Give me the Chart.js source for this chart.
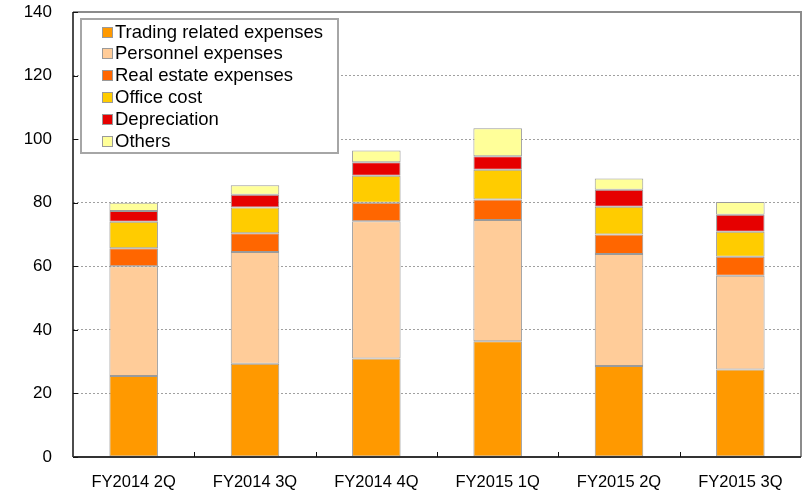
<!DOCTYPE html>
<html>
<head>
<meta charset="utf-8">
<script src="https://cdn.jsdelivr.net/npm/chart.js@4/dist/chart.umd.min.js"></script>
<style>
  html, body { margin: 0; padding: 0; background: #fff; }
  #wrap { width: 806px; height: 492px; }
</style>
</head>
<body>
<div id="wrap"><canvas id="c" width="806" height="492"></canvas></div>
<script>
// Quarterly expense breakdown (stacked)
const categories = ['FY2014 2Q', 'FY2014 3Q', 'FY2014 4Q', 'FY2015 1Q', 'FY2015 2Q', 'FY2015 3Q'];
const trading      = [25.5, 29.3, 31.0, 36.4, 28.6, 27.5];
const personnel    = [34.5, 35.2, 43.2, 38.2, 35.3, 29.5];
const realEstate   = [5.7, 5.9, 5.8, 6.4, 6.1, 6.0];
const officeCost   = [8.3, 8.1, 8.5, 9.4, 8.7, 7.9];
const depreciation = [3.4, 4.0, 4.2, 4.2, 5.4, 5.3];
const others       = [2.6, 3.0, 3.7, 8.8, 3.5, 4.0];
const yTicks = [0, 20, 40, 60, 80, 100, 120, 140];

const FONT = "'Liberation Sans', Arial, sans-serif";

function ds(label, data, color) {
  return {
    label, data,
    backgroundColor: color,
    borderColor: '#9a9a9a',
    borderWidth: 1,
    borderSkipped: false,
    categoryPercentage: 1.0,
    barPercentage: 0.4
  };
}

// Frame, inward tick marks and boxed legend
const decor = {
  id: 'decor',
  afterDatasetsDraw(chart) {
    const { ctx, chartArea: a, scales: { x, y } } = chart;
    ctx.save();
    // top / right frame
    ctx.strokeStyle = '#8c8c8c';
    ctx.lineWidth = 2;
    ctx.beginPath();
    ctx.moveTo(a.left, a.top);
    ctx.lineTo(a.right, a.top);
    ctx.lineTo(a.right, a.bottom);
    ctx.stroke();
    // axes
    ctx.strokeStyle = '#111';
    ctx.lineWidth = 1.5;
    ctx.beginPath();
    ctx.moveTo(a.left, a.top);
    ctx.lineTo(a.left, a.bottom);
    ctx.stroke();
    ctx.lineWidth = 2;
    ctx.strokeStyle = '#333';
    ctx.beginPath();
    ctx.moveTo(a.left, a.bottom);
    ctx.lineTo(a.right, a.bottom);
    ctx.stroke();
    // y tick marks
    ctx.lineWidth = 1;
    ctx.strokeStyle = '#111';
    ctx.beginPath();
    yTicks.forEach(v => {
      const py = Math.round(y.getPixelForValue(v)) + 0.5;
      ctx.moveTo(a.left, py);
      ctx.lineTo(a.left + 5, py);
    });
    // x tick marks between categories
    for (let i = 0; i < categories.length - 1; i++) {
      const px = Math.round((x.getPixelForValue(i) + x.getPixelForValue(i + 1)) / 2) + 0.5;
      ctx.moveTo(px, a.bottom);
      ctx.lineTo(px, a.bottom - 5);
    }
    ctx.stroke();

    // legend
    const bx = 81, by = 19, bw = 257, bh = 134;
    ctx.fillStyle = '#fff';
    ctx.fillRect(bx, by, bw, bh);
    ctx.strokeStyle = '#a6a6a6';
    ctx.lineWidth = 2;
    ctx.strokeRect(bx, by, bw, bh);
    ctx.font = '18.5px ' + FONT;
    ctx.textBaseline = 'middle';
    ctx.textAlign = 'left';
    chart.data.datasets.forEach((d, i) => {
      const cy = 31.5 + i * 21.8;
      ctx.fillStyle = d.backgroundColor;
      ctx.fillRect(102, Math.round(cy - 5), 10, 10);
      ctx.strokeStyle = '#9a9a9a';
      ctx.lineWidth = 1;
      ctx.strokeRect(102.5, Math.round(cy - 5) + 0.5, 10, 10);
      ctx.fillStyle = '#000';
      ctx.fillText(d.label, 115, cy + 1);
    });
    ctx.restore();
  }
};

new Chart(document.getElementById('c'), {
  type: 'bar',
  data: {
    labels: categories,
    datasets: [
      ds('Trading related expenses', trading, '#FF9900'),
      ds('Personnel expenses', personnel, '#FFCC99'),
      ds('Real estate expenses', realEstate, '#FF6600'),
      ds('Office cost', officeCost, '#FFCC00'),
      ds('Depreciation', depreciation, '#E60000'),
      ds('Others', others, '#FFFF99')
    ]
  },
  options: {
    responsive: false,
    animation: false,
    devicePixelRatio: 1,
    layout: { padding: { top: 12, right: 5, left: 0, bottom: 0 } },
    plugins: {
      legend: { display: false },
      tooltip: { enabled: false }
    },
    scales: {
      x: {
        stacked: true,
        grid: { display: false, drawTicks: false },
        border: { display: false },
        ticks: { color: '#000', font: { family: FONT, size: 16.5 }, padding: 16, maxRotation: 0 },
        afterFit(s) { s.height = 35; s.paddingLeft = 0; s.paddingRight = 0; }
      },
      y: {
        stacked: true,
        min: 0, max: 140,
        afterBuildTicks(s) { s.ticks = yTicks.map(v => ({ value: v })); },
        grid: {
          drawTicks: false,
          color: c => (c.tick && (c.tick.value === 0 || c.tick.value === 140)) ? 'rgba(0,0,0,0)' : '#a0a0a0',
          lineWidth: 1
        },
        border: { display: false, dash: [2, 2] },
        ticks: { color: '#000', font: { family: FONT, size: 17 }, padding: 21 },
        afterFit(s) { s.width = 73; s.paddingTop = 0; s.paddingBottom = 0; }
      }
    }
  },
  plugins: [decor]
});
</script>
</body>
</html>
